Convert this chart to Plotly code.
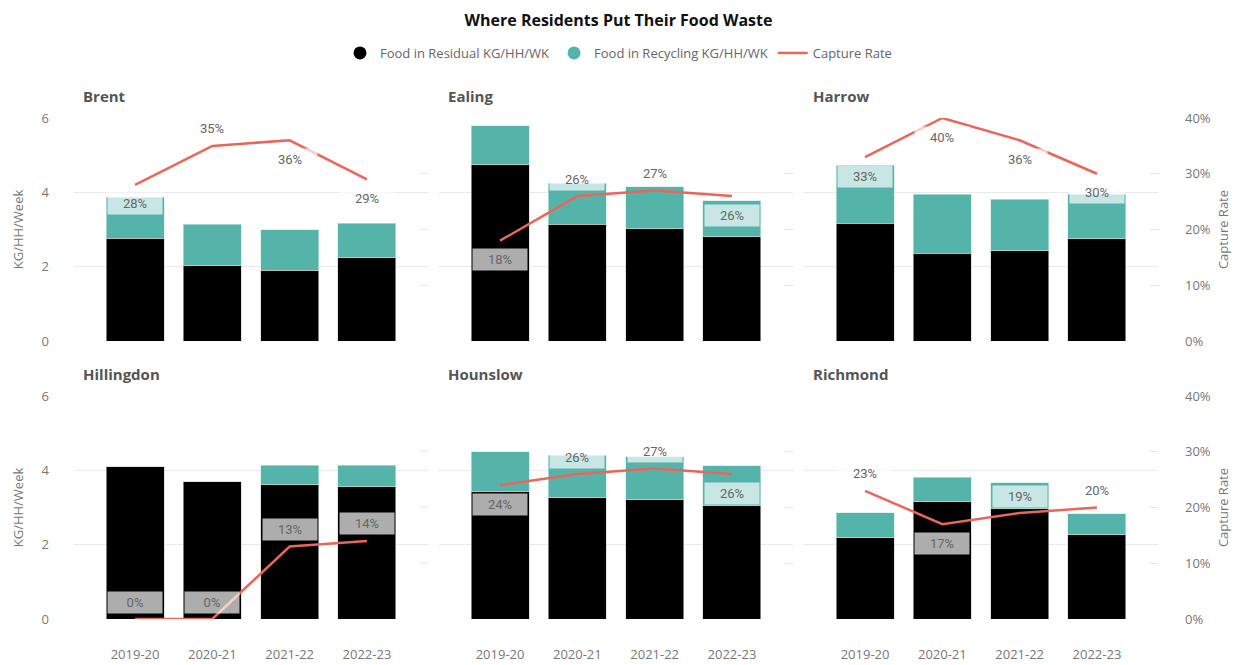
import plotly.graph_objects as go

# ---------------- data ----------------
YEARS = ["2019-20", "2020-21", "2021-22", "2022-23"]
BOROUGHS = ["Brent", "Ealing", "Harrow", "Hillingdon", "Hounslow", "Richmond"]

RESIDUAL_BRENT = [2.76, 2.02, 1.91, 2.24]
RECYCLING_BRENT = [1.11, 1.12, 1.09, 0.93]
CAPTURE_BRENT = [0.28, 0.35, 0.36, 0.29]

RESIDUAL_EALING = [4.74, 3.14, 3.02, 2.81]
RECYCLING_EALING = [1.05, 1.10, 1.13, 0.96]
CAPTURE_EALING = [0.18, 0.26, 0.27, 0.26]

RESIDUAL_HARROW = [3.17, 2.36, 2.43, 2.75]
RECYCLING_HARROW = [1.56, 1.59, 1.39, 1.20]
CAPTURE_HARROW = [0.33, 0.40, 0.36, 0.30]

RESIDUAL_HILLINGDON = [4.10, 3.69, 3.61, 3.56]
RECYCLING_HILLINGDON = [0.0, 0.0, 0.53, 0.58]
CAPTURE_HILLINGDON = [0.0, 0.0, 0.13, 0.14]

RESIDUAL_HOUNSLOW = [3.43, 3.26, 3.21, 3.05]
RECYCLING_HOUNSLOW = [1.07, 1.14, 1.16, 1.07]
CAPTURE_HOUNSLOW = [0.24, 0.26, 0.27, 0.26]

RESIDUAL_RICHMOND = [2.18, 3.15, 2.97, 2.27]
RECYCLING_RICHMOND = [0.68, 0.66, 0.69, 0.56]
CAPTURE_RICHMOND = [0.23, 0.17, 0.19, 0.20]

Y_TICKS = [0, 2, 4, 6]
RATE_TICKS = [0, 0.1, 0.2, 0.3, 0.4]

RESIDUAL = [RESIDUAL_BRENT, RESIDUAL_EALING, RESIDUAL_HARROW,
            RESIDUAL_HILLINGDON, RESIDUAL_HOUNSLOW, RESIDUAL_RICHMOND]
RECYCLING = [RECYCLING_BRENT, RECYCLING_EALING, RECYCLING_HARROW,
             RECYCLING_HILLINGDON, RECYCLING_HOUNSLOW, RECYCLING_RICHMOND]
CAPTURE = [CAPTURE_BRENT, CAPTURE_EALING, CAPTURE_HARROW,
           CAPTURE_HILLINGDON, CAPTURE_HOUNSLOW, CAPTURE_RICHMOND]

# label placement (style): +1 above the point, -1 below
LABEL_SIDE = [
    [-1, 1, -1, -1],
    [-1, 1, 1, -1],
    [-1, -1, -1, -1],
    [1, 1, 1, 1],
    [-1, 1, 1, -1],
    [1, -1, 1, 1],
]

# ---------------- styling ----------------
W, H = 1237, 665
BLACK = "#000000"
TEAL = "#55B4AA"
RED = "#E8665A"
GRID = "#EAEAEA"
TICK = "#777777"
FONT = "Open Sans"

PANEL_LEFT = [74, 439, 804]
PANEL_W = 354
ROW_TOP = [118, 396]
PANEL_H = 223

fig = go.Figure()

# legend-only entries
fig.add_trace(go.Scatter(x=[None], y=[None], mode="markers", name="Food in Residual KG/HH/WK",
                         marker=dict(color=BLACK, size=13, symbol="circle"), xaxis="x", yaxis="y"))
fig.add_trace(go.Scatter(x=[None], y=[None], mode="markers", name="Food in Recycling KG/HH/WK",
                         marker=dict(color=TEAL, size=13, symbol="circle"), xaxis="x", yaxis="y"))

layout = dict(
    width=W, height=H, autosize=False,
    margin=dict(l=0, r=0, t=0, b=0, autoexpand=False),
    paper_bgcolor="white", plot_bgcolor="rgba(0,0,0,0)",
    barmode="stack", bargap=0.25,
    font=dict(family=FONT, color=TICK, size=13),
    showlegend=True,
    legend=dict(orientation="h", x=0.5, xanchor="center", y=1 - 53 / H, yanchor="middle",
                font=dict(size=13, color="#666666", family=FONT), itemwidth=30,
                bgcolor="rgba(0,0,0,0)"),
    title=dict(text="<b>Where Residents Put Their Food Waste</b>", x=0.5, xanchor="center",
               y=1 - 20 / H, yanchor="middle",
               font=dict(size=16, color="#111111", family=FONT)),
)

annotations = []

for i, name in enumerate(BOROUGHS):
    r, c = divmod(i, 3)
    xid = "x" if i == 0 else f"x{i + 1}"
    yp = f"y{2 * i + 1}" if i > 0 else "y"
    ys = f"y{2 * i + 2}"
    x0 = PANEL_LEFT[c] / W
    x1 = (PANEL_LEFT[c] + PANEL_W) / W
    y1 = 1 - ROW_TOP[r] / H
    y0 = 1 - (ROW_TOP[r] + PANEL_H) / H

    fig.add_trace(go.Bar(x=YEARS, y=RESIDUAL[i], marker=dict(color=BLACK, line=dict(color="#CFCFCF", width=0.6)),
                         xaxis=xid, yaxis=yp, showlegend=False, name="Food in Residual KG/HH/WK"))
    fig.add_trace(go.Bar(x=YEARS, y=RECYCLING[i], marker=dict(color=TEAL, line=dict(color="#CFE9E5", width=0.6)),
                         xaxis=xid, yaxis=yp, showlegend=False, name="Food in Recycling KG/HH/WK"))
    fig.add_trace(go.Scatter(x=YEARS, y=CAPTURE[i], mode="lines", line=dict(color=RED, width=2.5),
                             xaxis=xid, yaxis=ys, name="Capture Rate", showlegend=(i == 0),
                             cliponaxis=False, legendgroup="cap"))

    xkey = "xaxis" if i == 0 else f"xaxis{i + 1}"
    ypkey = "yaxis" if i == 0 else f"yaxis{2 * i + 1}"
    yskey = f"yaxis{2 * i + 2}"

    layout[xkey] = dict(domain=[x0, x1], anchor=yp, type="category", categoryorder="array",
                        categoryarray=YEARS, range=[-0.79, 3.79], showgrid=False, zeroline=False,
                        showline=False, ticks="", showticklabels=(r == 1), automargin=False,
                        tickfont=dict(size=13, color=TICK, family=FONT), ticklabelstandoff=26)
    layout[ypkey] = dict(domain=[y0, y1], anchor=xid, range=[0, 6], tickvals=Y_TICKS,
                         showgrid=True, gridcolor=GRID, gridwidth=1, zeroline=False, showline=False,
                         ticks="", showticklabels=(c == 0), ticklabelstandoff=24, automargin=False,
                         tickfont=dict(size=13, color=TICK, family=FONT),
                         title=dict(text="KG/HH/Week" if c == 0 else "", standoff=15,
                                    font=dict(size=13, color=TICK, family=FONT)))
    layout[yskey] = dict(overlaying=yp, anchor=xid, side="right", range=[0, 0.4],
                         tickvals=RATE_TICKS, tickformat=".0%", showgrid=False, zeroline=False,
                         showline=False, ticks="inside", ticklen=8, tickcolor="#E6E6E6", tickwidth=1,
                         showticklabels=(c == 2), ticklabelstandoff=26, automargin=False,
                         tickfont=dict(size=13, color=TICK, family=FONT),
                         title=dict(text="Capture Rate" if c == 2 else "", standoff=9,
                                    font=dict(size=13, color=TICK, family=FONT)))

    # panel title
    annotations.append(dict(text=f"<b>{name}</b>", xref="paper", yref="paper",
                            x=(PANEL_LEFT[c] + 7) / W, xanchor="left",
                            y=1 - (ROW_TOP[r] - 22) / H, yanchor="middle", showarrow=False,
                            font=dict(size=15, color="#555555", family=FONT)))

    # data labels
    for j, yr in enumerate(YEARS):
        side = LABEL_SIDE[i][j]
        annotations.append(dict(text=f"{round(CAPTURE[i][j] * 100)}%", xref=xid, yref=ys,
                                x=yr, y=CAPTURE[i][j], showarrow=False,
                                yshift=17 if side > 0 else -19,
                                bgcolor="rgba(255,255,255,0.68)", width=50, height=17, borderpad=2,
                                font=dict(size=13, color="#666666", family="Roboto")))

layout["annotations"] = annotations
fig.update_layout(**layout)
fig.write_html("out.html", config={"displayModeBar": False},
               post_script="document.body.style.margin='0';document.body.style.overflow='hidden';")
